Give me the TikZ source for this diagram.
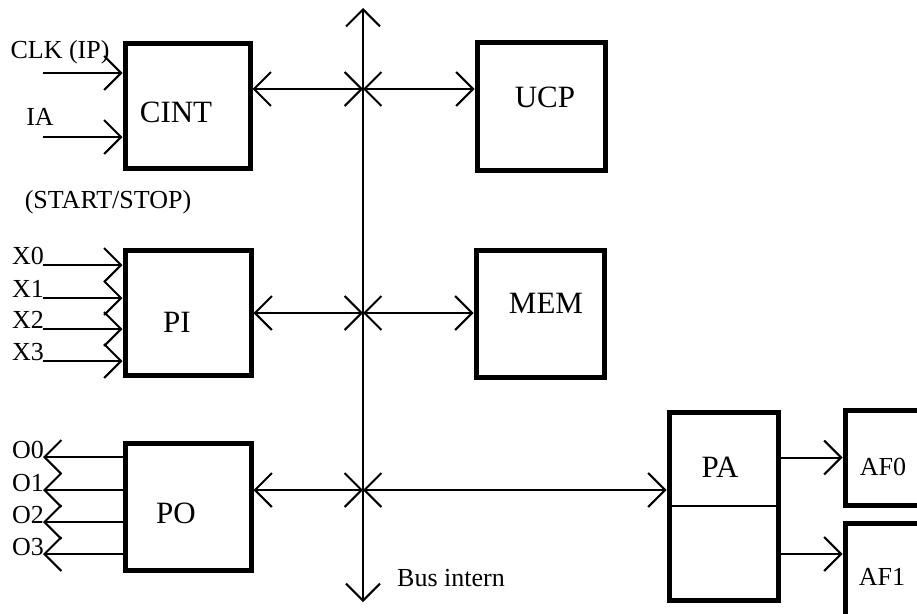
\documentclass[tikz,border=0pt]{standalone}
\usepackage{fontspec}
\setmainfont{Liberation Serif}
\usetikzlibrary{arrows.meta}
\begin{document}
\begin{tikzpicture}[x=1pt,y=-1pt,
  >={Straight Barb[length=17pt,width=34pt]},
  wire/.style={line width=2pt},
  blk/.style={draw, line width=5pt, inner sep=0pt},
  bigtxt/.style={inner sep=0pt, font=\fontsize{31}{37}\selectfont},
  smalltxt/.style={inner sep=0pt, font=\fontsize{26}{31}\selectfont}]
\clip (0,0) rectangle (917,613);

% blocks
\node[blk, minimum width=125, minimum height=125] (cint) at (187.5,105.5) {};
\node[blk, minimum width=126, minimum height=125] (pi)   at (188,312.5) {};
\node[blk, minimum width=126, minimum height=127] (po)   at (188,506.5) {};
\node[blk, minimum width=128, minimum height=128] (ucp)  at (541,106) {};
\node[blk, minimum width=128, minimum height=127] (mem)  at (540,313.5) {};
\node[blk, minimum width=109, minimum height=188] (pa)   at (723.5,506) {};
\node[blk, minimum width=120, minimum height=95]  (af0)  at (905,457.5) {};
\node[blk, minimum width=120, minimum height=150] (af1)  at (905,598) {};
\draw[wire] (pa.west) -- (pa.east);

% block labels
\node[bigtxt] (t-cint) at (176,112) {CINT};
\node[bigtxt] (t-pi)   at (177,322) {PI};
\node[bigtxt] (t-po)   at (176,513) {PO};
\node[bigtxt] (t-ucp)  at (545,97)  {UCP};
\node[bigtxt] (t-mem)  at (546,303) {MEM};
\node[bigtxt] (t-pa)   at (720,467) {PA};
\node[smalltxt] (t-af0) at (883,467) {AF0};
\node[smalltxt] (t-af1) at (882,577) {AF1};

% internal bus
\coordinate (bustop) at (363,8);
\coordinate (busbot) at (363,602);
\coordinate (b1) at (363,89);
\coordinate (b2) at (363,313);
\coordinate (b3) at (363,490);
\draw[wire,<->] (bustop) -- (busbot);
\node[smalltxt] (t-bus) at (451,578) {Bus intern};

\draw[wire,<->] (cint.east |- b1) -- (b1);
\draw[wire,<->] (b1) -- (ucp.west |- b1);
\draw[wire,<->] (pi.east |- b2) -- (b2);
\draw[wire,<->] (b2) -- (mem.west |- b2);
\draw[wire,<->] (po.east |- b3) -- (b3);
\draw[wire,<->] (b3) -- (pa.west |- b3);

% CINT inputs
\coordinate (clk) at (43,73);
\coordinate (ia)  at (43,137);
\draw[wire,->] (clk) -- (cint.west |- clk);
\draw[wire,->] (ia) -- (cint.west |- ia);
\node[smalltxt] (t-clk) at (60,52) {CLK (IP)};
\node[smalltxt] (t-ia)  at (40,117) {IA};
\node[smalltxt] (t-ss)  at (108,202) {(START/STOP)};

% PI inputs
\foreach \i/\y in {0/265,1/298,2/329,3/361}{
  \coordinate (x\i) at (43,\y);
  \draw[wire,->] (x\i) -- (pi.west |- x\i);
  \node[smalltxt, anchor=east] (t-x\i) at (44,\y-9) {X\i};
}

% PO outputs
\foreach \i/\y in {0/457,1/490,2/522,3/554}{
  \coordinate (o\i) at (43,\y);
  \draw[wire,->] (po.west |- o\i) -- (o\i);
  \node[smalltxt, anchor=east] (t-o\i) at (44,\y-7) {O\i};
}

% PA outputs
\coordinate (af1in) at (800,554);
\draw[wire,->] (pa.east |- af0.west) -- (af0.west);
\draw[wire,->] (pa.east |- af1in) -- (af1.west |- af1in);
\end{tikzpicture}
\end{document}
